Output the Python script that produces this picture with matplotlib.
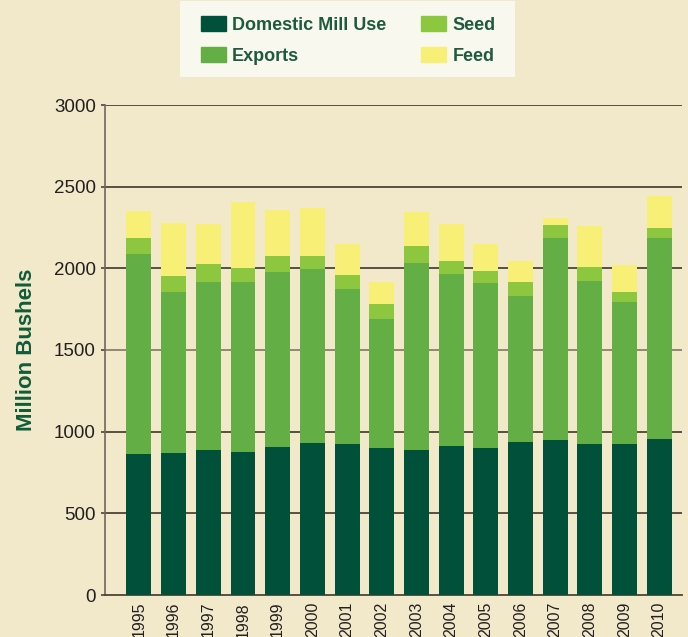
import numpy as np
import matplotlib
matplotlib.use("Agg")
import matplotlib.pyplot as plt
from matplotlib.patches import Patch, Rectangle

plt.rcParams['font.family'] = ['Liberation Sans', 'DejaVu Sans']

years = ['1995', '1996', '1997', '1998', '1999', '2000', '2001', '2002',
         '2003', '2004', '2005', '2006', '2007', '2008', '2009', '2010']
domestic = [861, 868, 886, 874, 904, 929, 922, 898, 886, 910, 898, 935, 947, 922, 922, 953]
exports = [1226, 987, 1030, 1042, 1073, 1067, 952, 793, 1146, 1056, 1012, 896, 1238, 1001, 872, 1232]
seed = [98, 96, 110, 86, 96, 77, 85, 91, 104, 79, 74, 86, 79, 85, 61, 65]
feed = [163, 329, 244, 402, 287, 299, 193, 135, 207, 229, 164, 126, 43, 250, 165, 191]

bg = '#F2E9CB'
c_dom = '#00503A'
c_exp = '#63AF45'
c_seed = '#8DC63F'
c_feed = '#F7EF76'
txt_green = '#1E5B3C'

fig = plt.figure(figsize=(6.88, 6.37), dpi=100, facecolor=bg)
ax = fig.add_axes([105/688, 1-595/637, (682-105)/688, (595-105)/637])
ax.set_facecolor(bg)

x = np.arange(len(years))
w = 0.72
d = np.array(domestic)
e = np.array(exports)
s = np.array(seed)
f = np.array(feed)
ax.bar(x, d, w, color=c_dom, zorder=3)
ax.bar(x, e, w, bottom=d, color=c_exp, zorder=3)
ax.bar(x, s, w, bottom=d+e, color=c_seed, zorder=3)
ax.bar(x, f, w, bottom=d+e+s, color=c_feed, zorder=3)

ax.set_xlim(-0.98, 15.66)
ax.set_ylim(0, 3000)
ax.set_yticks(range(0, 3001, 500))
for v in range(500, 3001, 500):
    col = '#8C8070' if v == 1500 else '#4B4337'
    ax.axhline(v, color=col, lw=1.3, zorder=1)

for sp in ['top', 'right']:
    ax.spines[sp].set_visible(False)
ax.spines['left'].set_color('#6E675E')
ax.spines['left'].set_linewidth(1.2)
ax.spines['bottom'].set_color('#4B4337')
ax.spines['bottom'].set_linewidth(1.3)

ax.tick_params(axis='y', length=3, width=1.2, color='#4B4337', labelsize=13.5,
               labelcolor='#231F20', pad=3.5)
ax.set_xticks(x)
ax.set_xticklabels(years, rotation=90, fontsize=11.5, color='#231F20')
ax.tick_params(axis='x', length=0, pad=5)

ax.set_ylabel('Million Bushels', fontsize=16, fontweight='bold', color='#0E5C3A', labelpad=12)

# legend box
fig.patches.append(Rectangle((180/688, 1-77/637), 335/688, 76/637, transform=fig.transFigure,
                             facecolor='#F8F8EF', edgecolor='none', zorder=0))

handles = [Patch(color=c_dom), Patch(color=c_exp), Patch(color=c_seed), Patch(color=c_feed)]
labels = ['Domestic Mill Use', 'Exports', 'Seed', 'Feed']
leg = fig.legend(handles, labels, ncol=2, loc='center', bbox_to_anchor=(348/688, 1-40.5/637),
                 frameon=False, prop={'weight': 'bold', 'size': 13},
                 handlelength=1.4, handleheight=0.85, columnspacing=1.9, labelspacing=0.75,
                 borderpad=0, borderaxespad=0, handletextpad=0.35)
for t in leg.get_texts():
    t.set_color(txt_green)

fig.savefig('out.png', dpi=100, facecolor=bg)
